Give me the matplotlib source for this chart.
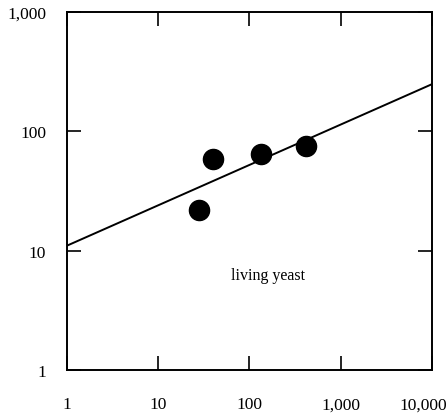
import numpy as np
import matplotlib
matplotlib.use("Agg")
import matplotlib.pyplot as plt
from matplotlib.ticker import FixedLocator, NullLocator
from matplotlib.transforms import ScaledTranslation

# Measurements for living yeast
x_vals = [28, 40, 135, 420]
y_vals = [22, 59, 64, 75]

# Fitted power-law line: y = a * x^b
fit_a = 11.0
fit_b = 0.338

x_ticks = [1, 10, 100, 1000, 10000]
x_tick_labels = ["1", "10", "100", "1,000", "10,000"]
y_ticks = [1, 10, 100, 1000]
y_tick_labels = ["1", "10", "100", "1,000"]

plt.rcParams["font.family"] = ["Liberation Serif", "DejaVu Serif"]

fig = plt.figure(figsize=(4.47, 4.14), dpi=100)
ax = fig.add_axes([0.150, 0.104, 0.816, 0.865])
ax.set_xscale("log")
ax.set_yscale("log")
ax.set_xlim(1, 10000)
ax.set_ylim(1, 1000)

xl = np.array([1, 10000], dtype=float)
ax.plot(xl, fit_a * xl ** fit_b, color="black", lw=1.4)
ax.plot(x_vals, y_vals, "o", color="black", markersize=14.5)

ax.xaxis.set_major_locator(FixedLocator(x_ticks))
ax.yaxis.set_major_locator(FixedLocator(y_ticks))
ax.xaxis.set_minor_locator(NullLocator())
ax.yaxis.set_minor_locator(NullLocator())
ax.set_xticklabels(x_tick_labels)
ax.set_yticklabels(y_tick_labels)
ax.tick_params(axis="both", which="major", direction="in", length=10, width=1.2,
               top=True, right=True, labelsize=12.5, colors="black")
ax.tick_params(axis="x", pad=19)
ax.tick_params(axis="y", pad=15)

# keep the last x label inside the figure
last = ax.get_xticklabels()[-1]
last.set_transform(last.get_transform() + ScaledTranslation(-9 / 100, 0, fig.dpi_scale_trans))

for s in ax.spines.values():
    s.set_linewidth(1.4)
    s.set_color("black")

ax.text(160, 6.3, "living yeast", ha="center", va="center", fontsize=11.5)

fig.savefig("out.png", dpi=100)
